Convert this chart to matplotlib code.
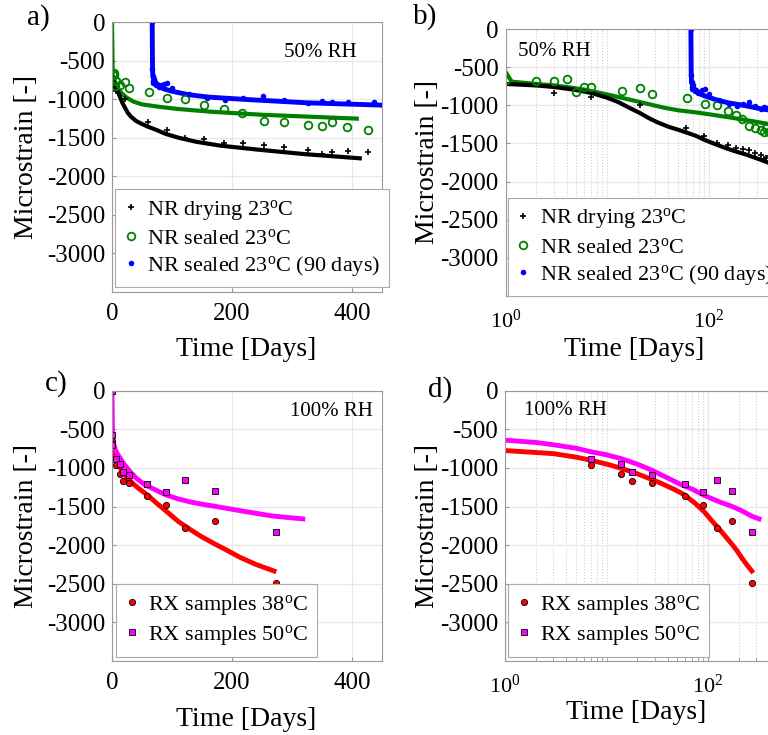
import numpy as np
import matplotlib.pyplot as plt
from matplotlib.ticker import LogLocator, NullFormatter

plt.rcParams['font.family'] = 'Liberation Serif'
plt.rcParams['mathtext.fontset'] = 'custom'
plt.rcParams['mathtext.rm'] = 'Liberation Serif'
plt.rcParams['mathtext.it'] = 'Liberation Serif:italic'
plt.rcParams['axes.unicode_minus'] = False

# ---- 50% RH, NR samples (time in days, microstrain)
nr_dry_t = [0, 3, 7, 21, 60, 91, 122, 154, 187, 218, 253, 287, 326, 350, 366, 393, 427]
nr_dry_y = [0, -838, -890, -991, -1300, -1400, -1500, -1520, -1565, -1570, -1592,
            -1620, -1655, -1705, -1688, -1666, -1682]
nr_dry_fit_t = [1, 2, 3, 5, 7, 10, 13, 17, 21, 26, 31, 40, 50, 60, 75, 90, 112, 140,
                180, 240, 320, 413]
nr_dry_fit_y = [-720, -740, -760, -800, -838, -900, -960, -1040, -1100, -1170, -1220,
                -1280, -1320, -1355, -1400, -1450, -1500, -1550, -1600, -1650, -1710, -1765]

nr_seal_t = [1, 2, 3, 4, 5, 6, 7, 14, 21, 28, 61, 92, 122, 154, 187, 216, 253, 287,
             326, 350, 366, 392, 427]
nr_seal_y = [-664, -686, -686, -660, -830, -764, -759, -817, -772, -847, -905, -980,
             -995, -1075, -1125, -1180, -1277, -1300, -1328, -1344, -1297, -1356, -1399]
nr_seal_fit_t = [0, 1, 1.15, 2, 3, 4, 6, 8, 11, 16, 24, 36, 50, 77, 110, 164, 250, 408]
nr_seal_fit_y = [0, -560, -690, -720, -740, -760, -795, -830, -870, -920, -975, -1030,
                 -1065, -1095, -1125, -1160, -1200, -1250]

nr_90_t = [67, 67, 68, 68, 69, 70, 71, 73, 75, 78, 82, 86, 92, 100, 128, 158, 189,
           219, 252, 287, 326, 350, 367, 393, 436]
nr_90_y = [0, -600, -700, -760, -790, -740, -770, -815, -800, -835, -820, -800, -790,
           -850, -935, -987, -1009, -987, -957, -1009, -1044, -1018, -1031, -1031, -1039]
nr_90_fit_t = [67, 67.5, 68, 70, 73, 78, 85, 100, 128, 160, 220, 325, 450]
nr_90_fit_y = [0, -580, -700, -750, -790, -830, -860, -895, -940, -970, -1000, -1045, -1075]

# ---- 100% RH, RX samples
rx38_t = [0, 0, 7, 14, 18, 28, 59, 90, 122, 172, 273]
rx38_y = [-650, -690, -962, -1079, -1174, -1196, -1360, -1485, -1778, -1684, -2491]
rx38_fit_t = [0, 1, 2, 3, 5, 7, 10, 14, 20, 28, 36, 46, 58, 75, 92, 110, 125, 147,
              169, 190, 214, 240, 270]
rx38_fit_y = [-620, -775, -800, -815, -860, -900, -950, -1005, -1075, -1150, -1210,
              -1275, -1345, -1460, -1570, -1690, -1770, -1880, -1975, -2060, -2160,
              -2250, -2335]

rx50_t = [0, 0, 0, 7, 14, 18, 28, 59, 90, 122, 172, 273]
rx50_y = [0, -580, -700, -885, -950, -1049, -1096, -1213, -1308, -1157, -1303, -1830]
rx50_fit_t = [0, 1, 2, 3, 5, 7, 10, 14, 20, 28, 40, 55, 70, 90, 110, 130, 150, 170,
              200, 230, 270, 318]
rx50_fit_y = [0, -640, -670, -700, -745, -790, -830, -880, -950, -1030, -1130, -1220,
              -1275, -1350, -1400, -1440, -1470, -1495, -1535, -1575, -1625, -1660]

GREEN = '#008000'
W, H = 768, 735
fig = plt.figure(figsize=(W / 100, H / 100), dpi=100)


def px_axes(left, top, right, bottom):
    return fig.add_axes([left / W, 1 - bottom / H, (right - left) / W, (bottom - top) / H])


def pos(t, y, logx):
    t = np.asarray(t, float)
    y = np.asarray(y, float)
    if logx:
        m = t > 0
        return t[m], y[m]
    return t, y


def setup(ax, logx):
    ax.set_ylim(-3500, 0)
    ax.set_yticks(np.arange(-3000, 1, 500))
    if logx:
        ax.set_xscale('log')
        ax.set_xlim(1, 457)
        ax.xaxis.set_major_locator(LogLocator(base=100))
        ax.xaxis.set_minor_locator(LogLocator(base=10, subs=np.arange(1, 10)))
        ax.xaxis.set_minor_formatter(NullFormatter())
        ax.grid(True, which='minor', axis='x', color='#cfcfcf', ls=':', lw=0.8)
        ax.tick_params(axis='x', labelsize=16, pad=10)
    else:
        ax.set_xlim(0, 450)
        ax.set_xticks([0, 200, 400])
        ax.tick_params(axis='x', labelsize=18, pad=8)
    ax.tick_params(axis='y', labelsize=18, pad=5)
    ax.tick_params(which='both', direction='in', length=3, color='#999999')
    ax.grid(True, which='major', color='#e8e8e8', lw=0.9)
    ax.set_axisbelow(True)
    for sp in ax.spines.values():
        sp.set_color('#9a9a9a')
        sp.set_linewidth(0.8)
    ax.set_ylabel('Microstrain [-]', fontsize=20)
    ax.set_xlabel('Time [Days]', fontsize=20, va='top')


def legend(ax, handles, labels, anchor):
    leg = ax.legend(handles, labels, loc='lower left', bbox_to_anchor=anchor,
                    borderaxespad=0, fontsize=16, handlelength=0.6, handletextpad=0.45,
                    borderpad=0.4, labelspacing=0.25, numpoints=1, fancybox=False,
                    framealpha=1, edgecolor='#aaaaaa')
    leg.get_frame().set_linewidth(0.8)


def draw_nr(ax, logx):
    setup(ax, logx)
    ax.plot(*pos(nr_seal_fit_t, nr_seal_fit_y, logx), color=GREEN, lw=3)
    ax.plot(*pos(nr_dry_fit_t, nr_dry_fit_y, logx), color='k', lw=3)
    ax.plot(*pos(nr_90_fit_t, nr_90_fit_y, logx), color='#0000ff', lw=3.5)
    h1, = ax.plot(*pos(nr_dry_t, nr_dry_y, logx), '+', color='k', ms=5, mew=1.2)
    h2, = ax.plot(*pos(nr_seal_t, nr_seal_y, logx), 'o', mfc='none', mec=GREEN,
                  ms=5.5, mew=1.3)
    h3, = ax.plot(*pos(nr_90_t, nr_90_y, logx), 'o', color='#0000ff', mec='none', ms=4)
    legend(ax, [h1, h2, h3],
           [r'NR drying 23$^{\rm o}$C', r'NR sealed 23$^{\rm o}$C',
            r'NR sealed 23$^{\rm o}$C (90 days)'],
           (0.011, 0.018) if not logx else (0.008, 0.0))


def draw_rx(ax, logx):
    setup(ax, logx)
    ax.plot(*pos(rx38_fit_t, rx38_fit_y, logx), color='#ff0000', lw=3.5)
    ax.plot(*pos(rx50_fit_t, rx50_fit_y, logx), color='#ff00ff', lw=3.5)
    h1, = ax.plot(*pos(rx38_t, rx38_y, logx), 'o', mfc='#ff0000', mec='k', ms=4.5, mew=0.6)
    h2, = ax.plot(*pos(rx50_t, rx50_y, logx), 's', mfc='#ff00ff', mec='k', ms=3.8, mew=0.6)
    legend(ax, [h1, h2], [r'RX samples 38$^{\rm o}$C', r'RX samples 50$^{\rm o}$C'],
           (0.015, 0.015) if not logx else (0.011, 0.015))


ax_a = px_axes(112, 22.3, 382, 292)
ax_b = px_axes(505.5, 29, 775.5, 296)
ax_c = px_axes(112, 390.7, 382, 661)
ax_d = px_axes(505, 390.7, 775, 661)

draw_nr(ax_a, False)
draw_nr(ax_b, True)
draw_rx(ax_c, False)
draw_rx(ax_d, True)

ax_a.text(0.907, 0.889, '50% RH', ha='right', va='center', fontsize=15, transform=ax_a.transAxes)
ax_b.text(0.047, 0.915, '50% RH', ha='left', va='center', fontsize=15, transform=ax_b.transAxes)
ax_c.text(0.968, 0.922, '100% RH', ha='right', va='center', fontsize=15, transform=ax_c.transAxes)
ax_d.text(0.07, 0.927, '100% RH', ha='left', va='center', fontsize=15, transform=ax_d.transAxes)

ax_a.yaxis.set_label_coords(-0.272, 0.5)
ax_b.yaxis.set_label_coords(-0.242, 0.5)
ax_c.yaxis.set_label_coords(-0.272, 0.5)
ax_d.yaxis.set_label_coords(-0.240, 0.5)
ax_a.xaxis.set_label_coords(0.496, -0.168)
ax_b.xaxis.set_label_coords(0.477, -0.152)
ax_c.xaxis.set_label_coords(0.496, -0.169)
ax_d.xaxis.set_label_coords(0.485, -0.145)

for lab, x, y in [('a)', 27, 17.5), ('b)', 413, 16.7), ('c)', 45, 383.3), ('d)', 428, 390)]:
    fig.text(x / W, 1 - y / H, lab, fontsize=21, va='center', ha='left')

fig.savefig('out.png', dpi=100)
